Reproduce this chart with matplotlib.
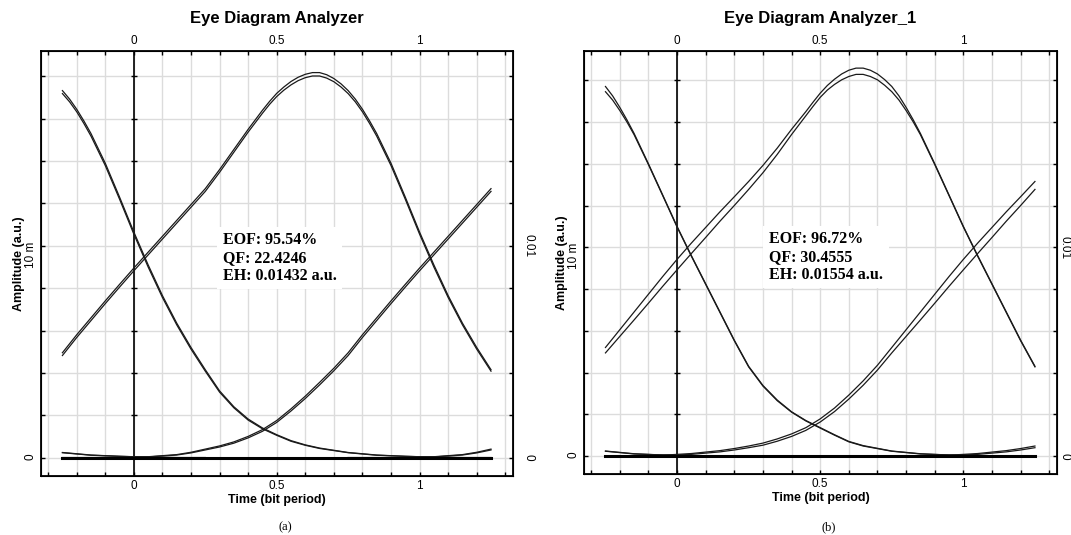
import numpy as np
import matplotlib.pyplot as plt
from matplotlib.ticker import FixedLocator, FixedFormatter, MultipleLocator

# pulse samples: time in bit periods, amplitude in milli a.u.
tau = [-1.25, -1.15, -1.05, -0.95, -0.85,
       -0.80, -0.75, -0.70, -0.65, -0.60, -0.55, -0.50, -0.45, -0.40, -0.35, -0.30, -0.25, -0.20,
       -0.15, -0.10, -0.05, 0.00, 0.05, 0.10, 0.15, 0.20, 0.25, 0.30, 0.35, 0.40, 0.45,
       0.475, 0.50, 0.525, 0.55, 0.575, 0.60, 0.625, 0.65, 0.675, 0.70, 0.725, 0.75,
       0.775, 0.80, 0.825, 0.85,
       0.90, 0.95, 1.00, 1.05, 1.10, 1.15, 1.20, 1.25, 1.30, 1.35, 1.40, 1.45, 1.50, 1.55,
       1.60, 1.65,
       1.75, 1.85, 1.95, 2.05, 2.15, 2.25]

# panel (a): upper trace and the gap down to the second trace
a_upper = [0.0, 0.0, 0.01, 0.04, 0.14,
           0.25, 0.40, 0.55, 0.74, 1.0, 1.32, 1.75, 2.3, 2.9, 3.55, 4.22, 4.95, 5.8,
           6.6, 7.4, 8.18, 8.95, 9.7, 10.45, 11.2, 11.95, 12.7, 13.6, 14.55, 15.5, 16.4,
           16.82, 17.2, 17.5, 17.76, 17.96, 18.1, 18.18, 18.18, 18.08, 17.9, 17.65, 17.33,
           16.93, 16.45, 15.9, 15.3,
           13.9, 12.3, 10.65, 9.1, 7.65, 6.35, 5.2, 4.15, 3.15, 2.4, 1.82, 1.4, 1.08, 0.8,
           0.6, 0.45,
           0.24, 0.12, 0.06, 0.02, 0.0, 0.0]
a_gap = [0.0, 0.0, 0.01, 0.01, 0.02,
         0.03, 0.04, 0.05, 0.06, 0.07, 0.08, 0.09, 0.1, 0.11, 0.12, 0.12, 0.13, 0.13,
         0.13, 0.13, 0.13, 0.13, 0.13, 0.13, 0.13, 0.13, 0.13, 0.13, 0.13, 0.13, 0.14,
         0.14, 0.15, 0.15, 0.16, 0.16, 0.16, 0.16, 0.16, 0.16, 0.15, 0.15, 0.14,
         0.13, 0.12, 0.12, 0.12,
         0.11, 0.1, 0.1, 0.1, 0.09, 0.08, 0.08, 0.07, 0.06, 0.05, 0.05, 0.04, 0.03, 0.03,
         0.02, 0.02,
         0.01, 0.01, 0.0, 0.0, 0.0, 0.0]

# panel (b)
b_upper = [0.0, 0.01, 0.04, 0.12, 0.26,
           0.36, 0.48, 0.62, 0.82, 1.06, 1.36, 1.78, 2.3, 2.92, 3.6, 4.35, 5.2, 6.05,
           6.9, 7.75, 8.6, 9.42, 10.2, 10.95, 11.7, 12.42, 13.15, 13.92, 14.75, 15.65, 16.5,
           16.95, 17.38, 17.75, 18.05, 18.3, 18.48, 18.58, 18.58, 18.48, 18.3, 18.03, 17.7,
           17.25, 16.7, 16.1, 15.45,
           14.0, 12.5, 11.0, 9.6, 8.25, 6.9, 5.55, 4.3, 3.38, 2.68, 2.12, 1.7, 1.36, 1.02,
           0.7, 0.5,
           0.24, 0.11, 0.05, 0.02, 0.0, 0.0]
b_gap = [0.0, 0.01, 0.02, 0.04, 0.06,
         0.07, 0.08, 0.1, 0.11, 0.12, 0.13, 0.15, 0.17, 0.19, 0.21, 0.23, 0.26, 0.32,
         0.38, 0.43, 0.47, 0.5, 0.5, 0.48, 0.45, 0.42, 0.38, 0.35, 0.3, 0.25, 0.2,
         0.2, 0.2, 0.22, 0.25, 0.28, 0.3, 0.3, 0.3, 0.3, 0.28, 0.27, 0.25,
         0.2, 0.15, 0.1, 0.06,
         0.04, 0.03, 0.03, 0.03, 0.03, 0.03, 0.03, 0.03, 0.03, 0.03, 0.02, 0.02, 0.02, 0.02,
         0.02, 0.02,
         0.01, 0.01, 0.0, 0.0, 0.0, 0.0]

bit_shifts = [-2, -1, 0, 1, 2]

titles = ['Eye Diagram Analyzer', 'Eye Diagram Analyzer_1']
captions = ['(a)', '(b)']
stats = ['EOF: 95.54%\nQF: 22.4246\nEH: 0.01432 a.u.',
         'EOF: 96.72%\nQF: 30.4555\nEH: 0.01554 a.u.']

W, H = 1071, 535
fig = plt.figure(figsize=(W / 100, H / 100), dpi=100)
plt.rcParams['font.family'] = 'Liberation Sans'

# (left, right, top, bottom) of each frame, in pixels
frames = [(41, 513, 51, 476), (584, 1057, 51, 474)]
ylims = [(-0.87e-3, 19.2e-3), (-0.86e-3, 19.4e-3)]
text_pos = [(223, 258), (769, 257)]
traces = [(a_upper, a_gap), (b_upper, b_gap)]
right_pad = [7, 1]


def draw_eye(ax, upper, gap):
    tt = np.array(tau)
    up = np.array(upper)
    for amp in (up, up - np.array(gap)):
        amp = amp * 1e-3
        for k in bit_shifts:
            t = tt + k
            m = (t > -0.26) & (t < 1.26)
            if m.sum() > 1:
                ax.plot(t[m], amp[m], color='#1a1a1a', lw=0.9, zorder=3)
    m = (tt > -0.26) & (tt < 1.26)
    ax.plot(tt[m], np.zeros(m.sum()), color='k', lw=2.2, zorder=3)


for i in range(2):
    l, r, t, b = frames[i]
    ax = fig.add_axes([l / W, 1 - b / H, (r - l) / W, (b - t) / H])
    draw_eye(ax, *traces[i])

    ax.set_xlim(-0.325, 1.327)
    ax.set_ylim(*ylims[i])
    ax.xaxis.set_major_locator(FixedLocator([0, 0.5, 1]))
    ax.xaxis.set_major_formatter(FixedFormatter(['0', '0.5', '1']))
    ax.xaxis.set_minor_locator(MultipleLocator(0.1))
    ax.yaxis.set_major_locator(FixedLocator([0, 0.01]))
    ax.yaxis.set_major_formatter(FixedFormatter(['0', '10 m']))
    ax.yaxis.set_minor_locator(MultipleLocator(0.002))
    ax.grid(True, which='both', color='#dcdcdc', lw=1.0, zorder=0)
    ax.set_axisbelow(True)
    ax.axvline(0, color='k', lw=1.2, zorder=2)
    yg = ax.get_yticks(minor=True)
    ax.plot(np.zeros_like(yg), yg, ls='none', marker='_', ms=5, mew=1, color='k', zorder=2)

    ax.tick_params(which='both', direction='in', length=3, width=1,
                   top=True, bottom=True, left=True, right=False,
                   labeltop=True, labelsize=8.5, colors='k', pad=3)
    ax.tick_params(axis='y', labelrotation=90)
    for s in ax.spines.values():
        s.set_linewidth(1.3)

    ax2 = ax.twinx()
    ax2.set_ylim(*ylims[i])
    ax2.yaxis.set_major_locator(FixedLocator([0, 0.01]))
    ax2.yaxis.set_major_formatter(FixedFormatter(['0', '0.01']))
    ax2.yaxis.set_minor_locator(MultipleLocator(0.002))
    ax2.tick_params(which='both', direction='in', length=3, width=1,
                    labelsize=8.5, labelrotation=-90, pad=right_pad[i])
    for lab in ax2.get_yticklabels():
        lab.set_va('center')

    ax.set_xlabel('Time (bit period)', fontsize=9, fontweight='bold', labelpad=1)
    ax.set_ylabel('Amplitude (a.u.)', fontsize=9, fontweight='bold', labelpad=0)

    fig.text((l + r) / 2 / W, 1 - 19 / H, titles[i], ha='center', va='center',
             fontsize=12, fontweight='bold')
    fig.text((l + r) / 2 / W + 0.008, 1 - 527 / H, captions[i], ha='center', va='center',
             fontsize=9, family='Liberation Serif')
    tx, ty = text_pos[i]
    fig.text(tx / W, 1 - ty / H, stats[i], ha='left', va='center', fontsize=11.5,
             fontweight='bold', family='Liberation Serif', linespacing=1.15,
             bbox=dict(boxstyle='square,pad=0.35', fc='white', ec='none'))

fig.savefig('out.png', dpi=100)
